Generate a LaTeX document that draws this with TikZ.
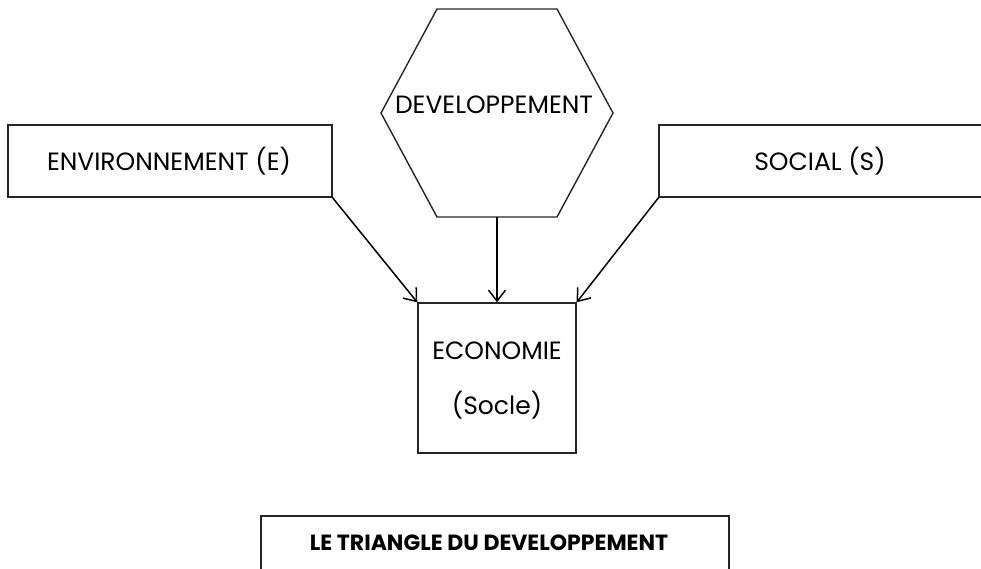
\documentclass[tikz,border=0pt]{standalone}
\usepackage{fontspec}
\setmainfont{Poppins}
\usetikzlibrary{arrows.meta}
\tikzset{
  lbl/.style={inner sep=0pt, font=\fontsize{25}{30}\selectfont},
  conn/.style={line width=1.5pt, -{Straight Barb[length=11pt,width=17pt,line width=1.5pt]}},
  frame/.style={line width=1.4pt, draw=black!85}
}
\begin{document}
\begin{tikzpicture}[x=1pt,y=-1pt]
\useasboundingbox (0,0) rectangle (981,568);
\clip (0,0) rectangle (981,568);
% boxes
\draw[frame] (8,125) rectangle (332,197);
\coordinate (envse) at (332,197);
\node[lbl] (env) at (169,161) {ENVIRONNEMENT (E)};
\draw[frame] (995,125) -- (659,125) -- (659,197) -- (995,197);
\coordinate (socsw) at (659,197);
\node[lbl] (soc) at (820,161) {SOCIAL (S)};
% hexagon
\draw[frame] (437,9) -- (557,9) -- (613,113) -- (557,217) -- (437,217) -- (381,113) -- cycle;
\coordinate (devb) at (497,217);
\node[lbl] (dev) at (494,105) {DEVELOPPEMENT};
% economie
\node[frame, draw, minimum width=158pt, minimum height=150pt, inner sep=0pt] (eco) at (497,378) {};
\node[lbl] (eco1) at (497,351) {ECONOMIE};
\node[lbl] (eco2) at (497,405) {(Socle)};
% arrows
\draw[conn] (envse) -- (eco.north west);
\draw[conn] (devb) -- (eco.north);
\draw[conn] (socsw) -- (eco.north east);
% title
\draw[frame] (261,600) -- (261,516) -- (729,516) -- (729,600);
\node[lbl, font=\bfseries\fontsize{22}{26}\selectfont] (title) at (489,543) {LE TRIANGLE DU DEVELOPPEMENT};
\end{tikzpicture}
\end{document}
